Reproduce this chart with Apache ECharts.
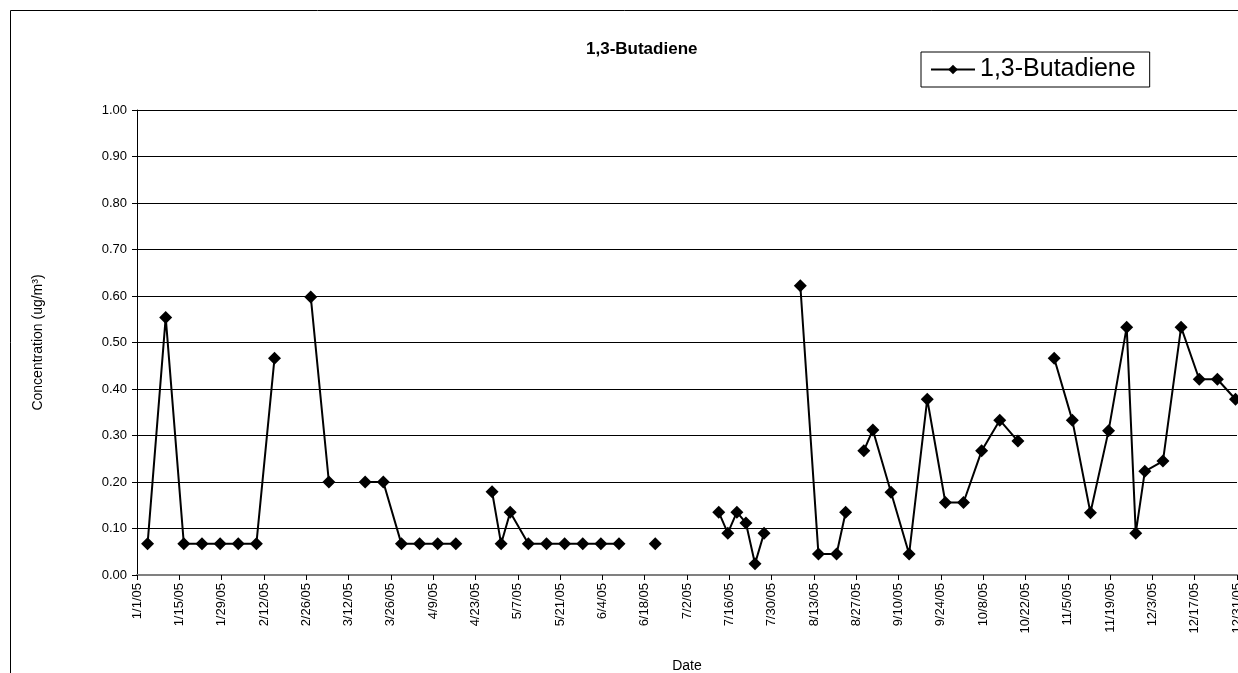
<!DOCTYPE html>
<html>
<head>
<meta charset="utf-8">
<script src="https://cdn.jsdelivr.net/npm/echarts@6/dist/echarts.min.js"></script>
<style>
  html, body { margin: 0; padding: 0; background: #fff; }
  #chart { width: 1238px; height: 673px; }
</style>
</head>
<body>
<div id="chart"></div>
<script>
// sampling dates (2005), null = no sample -> gap in the line
const sampleDates = [
  '1/4/05', '1/10/05', '1/16/05', '1/22/05', '1/28/05', '2/3/05', '2/9/05', '2/15/05', '2/21/05', '2/27/05',
  '3/5/05', '3/11/05', '3/17/05', '3/23/05', '3/29/05', '4/4/05', '4/10/05', '4/16/05', '4/22/05', '4/28/05',
  '5/1/05', '5/4/05', '5/10/05', '5/16/05', '5/22/05', '5/28/05', '6/3/05', '6/9/05', '6/15/05', '6/21/05',
  '6/27/05', '7/12/05', '7/15/05', '7/18/05', '7/21/05', '7/24/05', '7/27/05', '7/30/05', '8/8/05', '8/14/05',
  '8/20/05', '8/23/05', '8/26/05', '8/29/05', '9/1/05', '9/7/05', '9/13/05', '9/19/05', '9/25/05', '10/1/05',
  '10/7/05', '10/13/05', '10/19/05', '10/25/05', '10/31/05', '11/6/05', '11/12/05', '11/18/05', '11/24/05', '11/27/05',
  '11/30/05', '12/6/05', '12/12/05', '12/18/05', '12/24/05', '12/30/05'
];
const butadiene = [
  0.067, 0.554, 0.067, 0.067, 0.067, 0.067, 0.067, 0.466, null, 0.598,
  0.200, null, 0.200, 0.200, 0.067, 0.067, 0.067, 0.067, null, 0.179,
  0.067, 0.135, 0.067, 0.067, 0.067, 0.067, 0.067, 0.067, null, 0.067,
  null, 0.135, 0.090, 0.135, 0.112, 0.024, 0.090, null, 0.622, 0.045,
  0.045, 0.135, null, 0.267, 0.312, 0.178, 0.045, 0.378, 0.156, 0.156,
  0.267, 0.333, 0.288, null, 0.466, 0.333, 0.134, 0.310, 0.533, 0.090,
  0.223, 0.245, 0.533, 0.421, 0.421, 0.378
];
// x axis: days since 1/1/05, a tick every 14 days
const axisStartDay = 0;
const axisEndDay = 364;
const tickDays = 14;
const yTicks = [0, 1, 0.1];

const FONT = 'Arial, "Liberation Sans", sans-serif';
const DAY_MS = 86400000;
const jan1 = Date.UTC(2005, 0, 1);

let dayOf = (s) => {
  let p = s.split('/');
  return (Date.UTC(2000 + +p[2], +p[0] - 1, +p[1]) - jan1) / DAY_MS;
};
let dayLabel = (d) => {
  let t = new Date(jan1 + d * DAY_MS);
  return (t.getUTCMonth() + 1) + '/' + t.getUTCDate() + '/05';
};

let seriesData = sampleDates.map((s, i) => [dayOf(s) + 0.5, butadiene[i] == null ? '-' : butadiene[i]]);

let myChart = echarts.init(document.getElementById('chart'));
let option = {
  animation: false,
  backgroundColor: '#fff',
  graphic: [
    {
      type: 'rect',
      shape: { x: 10.5, y: 10.5, width: 1240, height: 700 },
      style: { fill: 'none', stroke: '#000', lineWidth: 1 },
      silent: true
    }
  ],
  title: {
    text: '1,3-Butadiene',
    left: 581,
    top: 36,
    textStyle: { fontFamily: FONT, fontSize: 17, fontWeight: 'bold', color: '#000' }
  },
  legend: {
    data: ['1,3-Butadiene'],
    left: 921,
    top: 52,
    orient: 'horizontal',
    borderColor: '#000',
    borderWidth: 1,
    padding: [5, 14, 5, 9],
    itemWidth: 44,
    itemHeight: 12,
    itemGap: 4,
    textStyle: { fontFamily: FONT, fontSize: 25, color: '#000' }
  },
  grid: { left: 137, top: 110, width: 1100, height: 465, containLabel: false, outerBoundsMode: 'none' },
  xAxis: {
    type: 'value',
    min: axisStartDay,
    max: axisEndDay,
    interval: tickDays,
    name: 'Date',
    nameLocation: 'middle',
    nameGap: 84,
    nameTextStyle: { fontFamily: FONT, fontSize: 14, color: '#000' },
    axisLine: { show: true, onZero: false, lineStyle: { color: '#808080', width: 2 } },
    axisTick: { show: true, length: 5, lineStyle: { color: '#000' } },
    splitLine: { show: false },
    axisLabel: {
      rotate: 90,
      margin: 8,
      fontFamily: FONT,
      fontSize: 13,
      color: '#000',
      showMaxLabel: true,
      formatter: (v) => dayLabel(v)
    }
  },
  yAxis: {
    type: 'value',
    min: yTicks[0],
    max: yTicks[1],
    interval: yTicks[2],
    name: 'Concentration (ug/m³)',
    nameLocation: 'middle',
    nameGap: 92,
    nameTextStyle: { fontFamily: FONT, fontSize: 14, color: '#000' },
    axisLine: { show: true, lineStyle: { color: '#000', width: 1 } },
    axisTick: { show: true, length: 5, lineStyle: { color: '#000' } },
    splitLine: { show: true, lineStyle: { color: '#000', width: 1 } },
    axisLabel: {
      margin: 10,
      fontFamily: FONT,
      fontSize: 13,
      color: '#000',
      formatter: (v) => v.toFixed(2)
    }
  },
  series: [
    {
      name: '1,3-Butadiene',
      type: 'line',
      data: seriesData,
      connectNulls: false,
      symbol: 'diamond',
      symbolSize: 13,
      showAllSymbol: true,
      clip: false,
      itemStyle: { color: '#000' },
      lineStyle: { color: '#000', width: 2 }
    }
  ]
};

option && myChart.setOption(option);
</script>
</body>
</html>
